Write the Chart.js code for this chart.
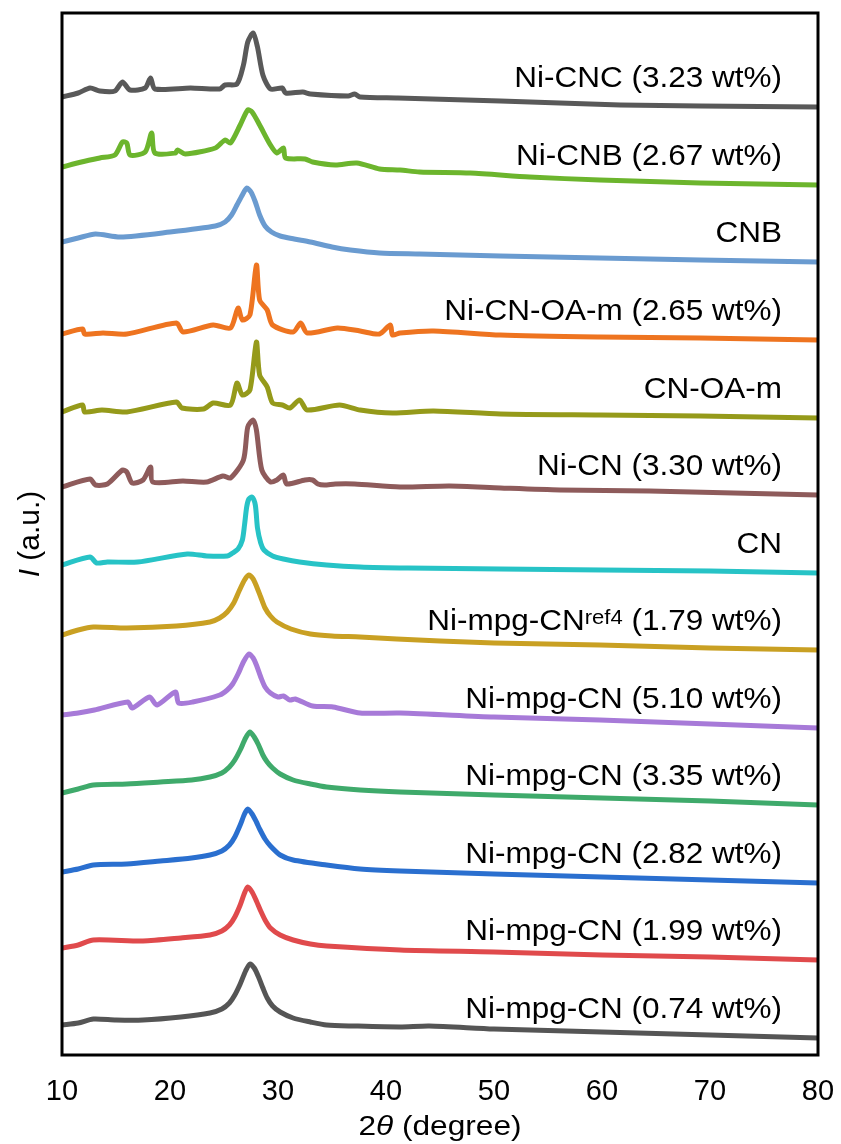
<!DOCTYPE html>
<html>
<head>
<meta charset="utf-8">
<script src="https://cdn.jsdelivr.net/npm/chart.js@4.4.1/dist/chart.umd.min.js"></script>
<style>
    html, body { margin: 0; padding: 0; background: #fff; }
</style>
</head>
<body>
<canvas id="xrdChart" width="841" height="1144"></canvas>
<script>
// --- Data (2θ in degree, intensity in a.u., curves already stacked) ---
const xTicks = [10, 20, 30, 40, 50, 60, 70, 80];

const niCNC = [[10,958],[11.5,962],[12.6,967],[13.5,964],[14.9,964],[15.6,973],[16.3,965],[17.7,967],[18.2,977],[18.6,966],[21.9,967],[24.6,966],[25.1,970],[26.2,971],[26.8,990],[27.2,1013],[27.7,1022],[28.1,1008],[28.6,980],[29.3,966],[30.4,967],[30.7,962],[32.3,963],[33,961],[36.5,959],[37.1,961],[37.6,958],[41.1,957],[50.6,954],[56.1,952],[61.7,950],[69.1,949],[80,948]];
const niCNB = [[10,888],[11.8,893],[13.5,897],[14.9,900],[15.6,913],[16,912],[16.3,900],[17.7,903],[18.3,922],[18.6,902],[20.5,902],[20.7,905],[21.4,901],[24.2,907],[25.1,915],[25.6,912],[26.5,930],[27.2,945],[27.6,943],[28.3,930],[29.3,910],[29.9,902],[30.5,907],[30.7,897],[32.5,896],[33.2,893],[35.3,890],[37.3,892],[39.4,886],[41.3,885],[43.1,883],[47.8,882],[53.3,878],[59.8,875],[69.1,872],[80,870]];
const cnb = [[10,813],[11.5,817],[13.1,821],[15.4,818],[20,823],[24.2,829],[25.1,833],[25.7,840],[26.2,850],[26.7,860],[27.1,867],[27.5,863],[27.9,853],[28.3,840],[28.8,829],[29.4,823],[30.2,819],[31.5,816],[33,813],[35,808],[36.7,805],[39.4,802],[43.1,801],[50.6,799],[59.8,797],[69.1,795],[80,793]];
const niCNOAm = [[10,721],[11.9,726],[12.1,721],[13.8,722],[16,721],[20.6,732],[21.2,723],[24,730],[25.6,727],[26.3,747],[26.7,735],[27.4,740],[28,790],[28.3,755],[29,745],[29.5,730],[31.4,723],[32.1,732],[32.7,722],[35.5,727],[37.6,724],[39.4,721],[40.4,730],[40.6,720],[41.3,722],[44.4,724],[50.6,720],[59.8,718],[69.1,717],[80,715]];
const cnOAm = [[10,643],[11.9,650],[12.1,643],[13.7,645],[16,643],[20.6,653],[21.1,647],[23.1,646],[24,652],[25.6,650],[26.2,672],[26.7,660],[27.4,665],[28,713],[28.3,680],[29,668],[29.5,652],[30.4,650],[31.1,647],[32,655],[32.7,645],[35.7,650],[37.6,645],[40.6,642],[44.4,644],[50.6,641],[59.8,640],[69.1,639],[80,637]];
const niCN = [[10,568],[12.6,576],[13.1,570],[14.2,571],[15.6,585],[16,583],[16.5,572],[17.5,575],[18.2,588],[18.4,573],[21.2,574],[23.4,573],[24.9,579],[25.6,577],[26.8,595],[27.2,628],[27.7,635],[28,625],[28.5,585],[29.3,573],[29.9,575],[30.5,580],[30.8,571],[32.5,575],[33.2,575],[33.7,571],[34.3,570],[35.3,571],[37.1,571],[41.3,568],[45.9,569],[50.6,567],[56.1,565],[64.4,564],[80,560]];
const cn = [[10,490],[12.6,498],[13.2,492],[14.2,493],[17,493],[21.6,501],[23.4,499],[25.3,499],[25.8,502],[26.3,506],[26.7,515],[26.9,530],[27.1,548],[27.3,556],[27.6,558],[27.9,550],[28.1,527],[28.4,512],[28.7,505],[29.5,499],[30.5,496],[32,493],[34.5,490],[37.6,488],[42,487],[50.6,486],[60,485],[70,484],[80,482]];
const niMpgRef4 = [[10,420],[11.5,425],[12.9,428],[16,427],[20.6,429],[23.7,433],[24.6,437],[25.3,443],[25.9,452],[26.4,464],[26.9,475],[27.3,480],[27.7,476],[28,469],[28.4,458],[28.8,447],[29.3,439],[29.9,433],[31.2,426],[33,421],[35,419],[37.6,418],[41,416],[45,414],[50,412],[59.8,410],[70,407],[80,405]];
const niMpg510 = [[10,340],[11.5,342],[13,345],[16.1,353],[16.5,347],[18.1,358],[18.8,350],[20.5,363],[20.8,352],[22.1,353],[24.6,360],[25.3,365],[25.8,371],[26.3,381],[26.8,393],[27.3,401],[27.7,397],[28,390],[28.4,378],[28.8,368],[29.3,362],[30,358],[30.5,359],[31.1,355],[31.6,356],[33.2,349],[35.1,348],[37.6,342],[41.3,342],[50,338],[59.8,335],[70,331],[80,327]];
const niMpg335 = [[10,262],[11.5,266],[12.9,270],[16,271],[19.1,273],[22,275],[23.7,278],[24.8,282],[25.5,288],[26,295],[26.5,305],[27,317],[27.4,323],[27.8,318],[28.2,310],[28.6,300],[29,293],[29.5,287],[30.2,281],[31.4,275],[33,271],[34.5,268],[37.6,265],[41.3,263],[50,260],[60,257],[70,254],[80,250]];
const niMpg282 = [[10,183],[11.5,186],[12.9,190],[16,191],[19.1,194],[22,197],[23.7,200],[24.8,204],[25.5,210],[26,218],[26.5,230],[26.9,241],[27.2,246],[27.6,241],[28,233],[28.3,226],[28.8,216],[29.3,209],[30.2,200],[31.4,195],[34.5,190],[37.6,186],[41.3,184],[50,181],[60,178],[70,175],[80,172]];
const niMpg199 = [[10,107],[11.5,110],[12.9,115],[17.5,114],[21,117],[23.7,120],[24.8,124],[25.5,130],[26,138],[26.5,150],[26.9,162],[27.2,168],[27.6,163],[28,154],[28.4,144],[28.8,135],[29.3,127],[30.2,120],[31.4,115],[33,111],[34.5,109],[41.3,105],[50,103],[60,100],[70,98],[80,95]];
const niMpg074 = [[10,30],[11.5,32],[12.9,36],[15,35],[17.5,35],[21,38],[23.7,42],[24.8,46],[25.5,52],[26,60],[26.5,71],[27,84],[27.4,91],[27.8,87],[28.2,78],[28.6,67],[29,57],[29.5,49],[30.2,43],[31.4,37],[33,33],[34.5,30],[37,29],[41.3,28],[44,29],[50,26],[60,23],[70,20],[80,17]];

const seriesData = [niCNC, niCNB, cnb, niCNOAm, cnOAm, niCN, cn, niMpgRef4, niMpg510, niMpg335, niMpg282, niMpg199, niMpg074];
// text in {} is drawn as superscript
const seriesLabels = [
    'Ni-CNC (3.23 wt%)', 'Ni-CNB (2.67 wt%)', 'CNB', 'Ni-CN-OA-m (2.65 wt%)', 'CN-OA-m',
    'Ni-CN (3.30 wt%)', 'CN', 'Ni-mpg-CN{ref4} (1.79 wt%)', 'Ni-mpg-CN (5.10 wt%)',
    'Ni-mpg-CN (3.35 wt%)', 'Ni-mpg-CN (2.82 wt%)', 'Ni-mpg-CN (1.99 wt%)', 'Ni-mpg-CN (0.74 wt%)'
];
const seriesColors = [
    '#595959', '#6cb52d', '#6a9bd0', '#ee7420', '#959a1a', '#8e5b5b', '#27c3c6',
    '#c9a023', '#a77ad8', '#3faa6b', '#2a6fcf', '#e04a4c', '#555555'
];

const FONT = "'Liberation Sans', Arial, sans-serif";
const STRETCH = 1.05; // source figure is slightly wide

// --- Draw helpers ---
function drawRichText(ctx, text, rightX, baseY, size) {
    const parts = text.split(/(\{[^}]*\})/).filter(p => p.length);
    const segs = parts.map(p => p.startsWith('{')
        ? { t: p.slice(1, -1), font: `${Math.round(size * 0.7)}px ${FONT}`, dy: -6 }
        : { t: p, font: `${size}px ${FONT}`, dy: 0 });
    let total = 0;
    segs.forEach(s => { ctx.font = s.font; s.w = ctx.measureText(s.t).width; total += s.w; });
    ctx.save();
    ctx.translate(rightX - total * STRETCH, baseY);
    ctx.scale(STRETCH, 1);
    ctx.textAlign = 'left';
    ctx.textBaseline = 'alphabetic';
    let cx = 0;
    segs.forEach(s => { ctx.font = s.font; ctx.fillText(s.t, cx, s.dy); cx += s.w; });
    ctx.restore();
}

function drawMixed(ctx, segs, centerX, baseY, sx) {
    let total = 0;
    segs.forEach(s => { ctx.font = s.font; s.w = ctx.measureText(s.t).width; total += s.w; });
    ctx.save();
    ctx.translate(centerX - total * sx / 2, baseY);
    ctx.scale(sx, 1);
    ctx.textAlign = 'left';
    ctx.textBaseline = 'alphabetic';
    let cx = 0;
    segs.forEach(s => { ctx.font = s.font; ctx.fillText(s.t, cx, 0); cx += s.w; });
    ctx.restore();
}

const frameAndLabels = {
    id: 'frameAndLabels',
    afterDraw(chart) {
        const { ctx, chartArea: a, scales: { y } } = chart;
        ctx.save();
        // axes frame
        ctx.lineWidth = 3;
        ctx.strokeStyle = '#000';
        ctx.strokeRect(a.left, a.top, a.right - a.left, a.bottom - a.top);

        // curve names, sitting above the right end of each curve
        ctx.fillStyle = '#000';
        seriesLabels.forEach((lab, i) => {
            const pts = seriesData[i];
            const endY = y.getPixelForValue(pts[pts.length - 1][1]);
            drawRichText(ctx, lab, a.right - 36, endY - 20, 30);
        });

        // x title: 2θ (degree)
        drawMixed(ctx, [
            { t: '2', font: `28px ${FONT}` },
            { t: 'θ', font: `italic 28px ${FONT}` },
            { t: ' (degree)', font: `28px ${FONT}` }
        ], (a.left + a.right) / 2, 1135, 1.13);

        // y title: I (a.u.)
        ctx.save();
        ctx.translate(39, (a.top + a.bottom) / 2);
        ctx.rotate(-Math.PI / 2);
        drawMixed(ctx, [
            { t: 'I', font: `italic 30px ${FONT}` },
            { t: ' (a.u.)', font: `30px ${FONT}` }
        ], 0, 0, 1);
        ctx.restore();
        ctx.restore();
    }
};

// --- Chart ---
const ctx = document.getElementById('xrdChart').getContext('2d');
new Chart(ctx, {
    type: 'line',
    data: {
        datasets: seriesData.map((d, i) => ({
            label: seriesLabels[i],
            data: d.map(([x, v]) => ({ x, y: v })),
            borderColor: seriesColors[i],
            borderWidth: 5,
            borderJoinStyle: 'round',
            pointRadius: 0,
            tension: 0.25,
            fill: false
        }))
    },
    options: {
        responsive: false,
        devicePixelRatio: 1,
        animation: false,
        layout: { padding: { left: 62, top: 13, right: 23, bottom: 0 } },
        plugins: { legend: { display: false }, tooltip: { enabled: false } },
        scales: {
            x: {
                type: 'linear',
                min: 10,
                max: 80,
                afterBuildTicks: s => { s.ticks = xTicks.map(v => ({ value: v })); },
                afterFit: s => { s.height = 89; s.paddingLeft = 0; s.paddingRight = 0; },
                grid: { display: false, drawTicks: false },
                border: { display: false },
                ticks: {
                    color: '#000',
                    font: { family: FONT, size: 29 },
                    padding: 20,
                    maxRotation: 0
                }
            },
            y: { display: false, min: 0, max: 1042 }
        }
    },
    plugins: [frameAndLabels]
});
</script>
</body>
</html>
